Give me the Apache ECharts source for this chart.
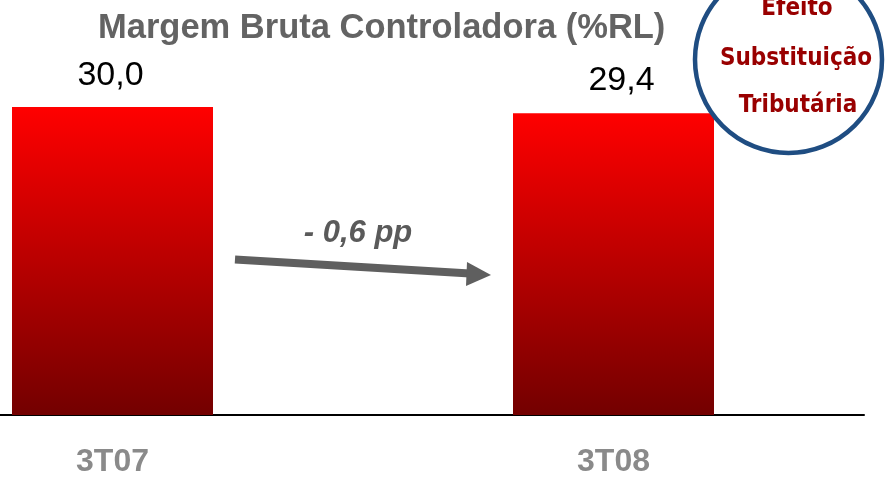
<!DOCTYPE html>
<html>
<head>
<meta charset="utf-8">
<script src="https://cdn.jsdelivr.net/npm/echarts@6/dist/echarts.min.js"></script>
<style>
  html, body { margin: 0; padding: 0; background: #fff; }
  #chart { width: 886px; height: 478px; }
</style>
</head>
<body>
<div id="chart"></div>
<script>
  // dados
  const categories = ['3T07', '3T08']
  const margem = [30.0, 29.4]
  const variacao = '- 0,6 pp'
  const selo = ['Efeito', 'Substituição', 'Tributária']

  const chart = echarts.init(document.getElementById('chart'))

  const seloFont = 'bold 24px "DejaVu Sans Condensed", "DejaVu Sans"'
  // o rótulo do 3T08 fica um pouco à direita no original
  const labelOffsets = [[-2, 0], [8, -2]]

  const option = {
    animation: false,
    title: {
      text: 'Margem Bruta Controladora (%RL)',
      left: 93,
      top: 6,
      textStyle: {
        fontFamily: 'Liberation Sans',
        fontWeight: 'bold',
        fontSize: 34.5,
        color: '#636363'
      }
    },
    grid: {
      left: -138,
      right: 22,
      top: 107,
      bottom: 63,
      outerBoundsMode: 'none'
    },
    xAxis: {
      type: 'category',
      data: categories,
      axisLine: { lineStyle: { color: '#000', width: 2 } },
      axisTick: { show: false },
      axisLabel: {
        margin: 31,
        fontFamily: 'Liberation Sans',
        fontWeight: 'bold',
        fontSize: 32,
        color: '#8a8a8a'
      }
    },
    yAxis: {
      type: 'value',
      min: 0,
      max: 30,
      show: false,
      splitLine: { show: false }
    },
    series: [
      {
        type: 'bar',
        data: margem.map((v, i) => ({ value: v, label: { offset: labelOffsets[i] } })),
        barWidth: 201,
        itemStyle: {
          color: new echarts.graphic.LinearGradient(0, 0, 0, 1, [
            { offset: 0, color: '#ff0000' },
            { offset: 1, color: '#730000' }
          ])
        },
        label: {
          show: true,
          position: 'top',
          distance: 14,
          fontFamily: 'Liberation Sans',
          fontSize: 34,
          color: '#000',
          formatter: p => p.value.toFixed(1).replace('.', ',')
        }
      }
    ],
    graphic: [
      // seta
      {
        type: 'line',
        shape: { x1: 235, y1: 259.5, x2: 470, y2: 273.5 },
        style: { stroke: '#5f5f5f', lineWidth: 8 }
      },
      {
        type: 'polygon',
        shape: { points: [[467, 262], [491, 275], [466, 286]] },
        style: { fill: '#5f5f5f' }
      },
      {
        type: 'text',
        x: 358,
        y: 233,
        style: {
          text: variacao,
          align: 'center',
          verticalAlign: 'middle',
          font: 'italic bold 31px "Liberation Sans"',
          fill: '#5a5a5a'
        }
      },
      // selo
      {
        type: 'circle',
        shape: { cx: 788.5, cy: 59.5, r: 93.5 },
        style: { fill: '#fff', stroke: '#1f4d82', lineWidth: 4.5 },
        z: 10
      },
      {
        type: 'text',
        x: 797, y: 9,
        style: { text: selo[0], align: 'center', verticalAlign: 'middle', font: seloFont, fill: '#990000' },
        z: 11
      },
      {
        type: 'text',
        x: 796, y: 58.5,
        style: { text: selo[1], align: 'center', verticalAlign: 'middle', font: seloFont, fill: '#990000' },
        z: 11
      },
      {
        type: 'text',
        x: 798, y: 106,
        style: { text: selo[2], align: 'center', verticalAlign: 'middle', font: seloFont, fill: '#990000' },
        z: 11
      }
    ]
  }

  chart.setOption(option)
</script>
</body>
</html>
